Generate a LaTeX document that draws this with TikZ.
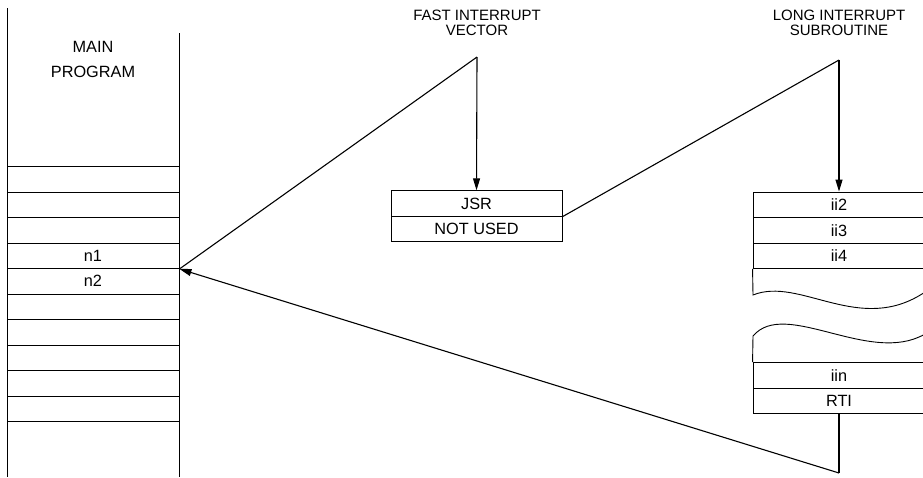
\documentclass[tikz,border=0pt]{standalone}
\usepackage{fontspec}
\setmainfont{Liberation Sans}
\usetikzlibrary{arrows.meta}

\begin{document}
\begin{tikzpicture}[x=1pt, y=-1pt, >={Triangle[length=12pt,width=7pt]}, line width=0.9pt,
    cell/.style={draw, minimum width=172pt, minimum height=25.5pt, inner sep=0pt,
      font=\fontsize{16.3}{16.3}\selectfont},
    title/.style={align=center, font=\fontsize{15}{14.5}\selectfont},
    link/.style={line width=1.1pt}]
  \useasboundingbox (0,0) rectangle (923,477);
  % main program column
  \draw (7,8) -- (7,477);
  \draw (179,33) -- (179,477);
  \node[align=center, font=\fontsize{16.3}{25}\selectfont] (main) at (93,59.5) {MAIN\\PROGRAM};
  \foreach \i in {1,2,3,6,7,8,9,10}
    \node[cell] (r\i) at (93,153.75+25.5*\i) {};
  \node[cell] (n1) at (93,255.75) {n1};
  \node[cell] (n2) at (93,281.25) {n2};

  % fast interrupt vector
  \node[title] (fast) at (477,23) {FAST INTERRUPT\\VECTOR};
  \coordinate (fastpk) at (477,57);
  \node[cell, minimum width=171pt] (jsr) at (476.5,203.5) {JSR};
  \node[cell, minimum width=171pt] (notused) at (476.5,229) {NOT USED};

  % long interrupt subroutine
  \node[title] (long) at (839,23) {LONG INTERRUPT\\SUBROUTINE};
  \coordinate (longpk) at (839,60);
  \node[cell] (ii2) at (839,204.75) {ii2};
  \node[cell] (ii3) at (839,230.25) {ii3};
  \node[cell] (ii4) at (839,255.75) {ii4};
  \draw (ii4.south west) -- (753,295) .. controls (800,276) and (860,336) .. (925,292)
    -- (ii4.south east);
  \node[cell] (iin) at (839,375.25) {iin};
  \node[cell] (rti) at (839,400.75) {RTI};
  \draw (iin.north west) -- (753,336) .. controls (785,298) and (870,366) .. (925,334)
    -- (iin.north east);
  \coordinate (longret) at (839,473);

  % connectors
  \draw[link] (n1.south east) -- (fastpk);
  \draw[link,->] (fastpk) -- (jsr.north);
  \draw[link] (jsr.south east) -- (longpk);
  \draw[link,->] (longpk) -- (ii2.north);
  \draw[link] (rti.south) -- (longret);
  \draw[link,->] (longret) -- (n1.south east);
\end{tikzpicture}
\end{document}
